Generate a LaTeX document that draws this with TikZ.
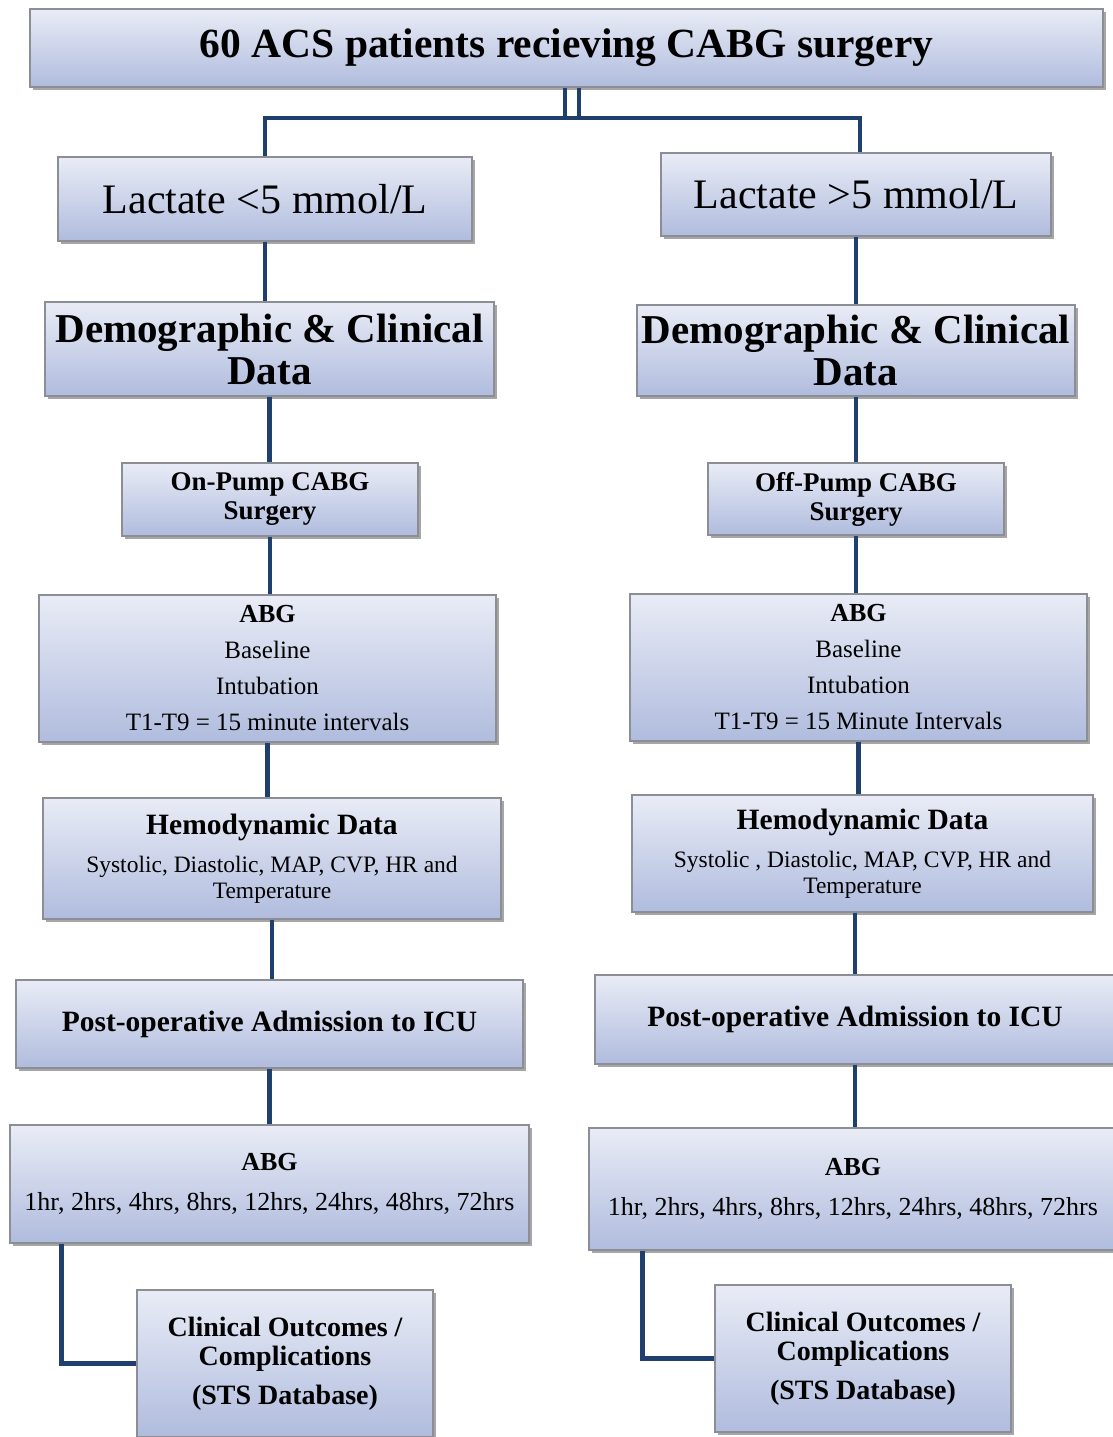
\documentclass[tikz,border=0pt]{standalone}
\usepackage{fontspec}
\setmainfont{Liberation Serif}
\usetikzlibrary{positioning, shadows, calc}
\definecolor{flowtop}{HTML}{E9ECF6}
\definecolor{flowbot}{HTML}{B0BCDE}
\definecolor{flowedge}{HTML}{8C8E96}
\definecolor{flowline}{HTML}{1F3F6E}
\tikzset{
  fbox/.style={draw=flowedge, line width=1.2pt, top color=flowtop, bottom color=flowbot,
               align=center, inner sep=0pt,
               drop shadow={shadow xshift=3pt, shadow yshift=-3pt, opacity=0.35, fill=black}},
  link/.style={draw=flowline, line width=4.5pt},
  big/.style={font=\fontsize{42}{46}\selectfont},
  bigb/.style={font=\fontsize{41}{42}\selectfont\bfseries},
  mid/.style={font=\fontsize{28}{29}\selectfont\bfseries},
  abgtext/.style={font=\fontsize{25}{36}\selectfont},
  hemotext/.style={font=\fontsize{23.5}{26}\selectfont},
  hrstext/.style={font=\fontsize{26}{39}\selectfont},
}

\begin{document}
\begin{tikzpicture}[x=1pt, y=-1pt]
  \useasboundingbox (0,0) rectangle (1113,1437);

  % top of the tree
  \node[fbox, bigb, font=\fontsize{41.5}{42}\selectfont\bfseries, minimum width=1073, minimum height=78] (top) at (566.5,48)
    {60 ACS patients recieving CABG surgery};
  \coordinate (split) at (572,118);

  % left column
  \node[fbox, big,  minimum width=414, minimum height=84]  (l1) at (265,199)    {Lactate <5 mmol/L};
  \node[fbox, bigb, minimum width=449, minimum height=94]  (l2) at (269.5,349)  {Demographic \& Clinical\\Data};
  \node[fbox, mid, font=\fontsize{27}{29}\selectfont\bfseries, minimum width=296, minimum height=73] (l3) at (270,499.5)
    {On-Pump CABG\\Surgery};
  \node[fbox, abgtext, minimum width=457, minimum height=147] (l4) at (267.5,668.5)
    {{\fontsize{26}{36}\selectfont\bfseries ABG}\\Baseline\\Intubation\\T1-T9 = 15 minute intervals};
  \node[fbox, hemotext, minimum width=458, minimum height=121] (l5) at (272,858.5)
    {{\fontsize{29.5}{26}\selectfont\bfseries Hemodynamic Data}\\[12pt]Systolic, Diastolic, MAP, CVP, HR and\\Temperature};
  \node[fbox, mid, font=\fontsize{29.5}{30}\selectfont\bfseries, minimum width=507, minimum height=88] (l6) at (269.5,1024)
    {Post-operative Admission to ICU};
  \node[fbox, hrstext, minimum width=519, minimum height=118] (l7) at (269.5,1184)
    {{\bfseries ABG}\\[1pt]1hr, 2hrs, 4hrs, 8hrs, 12hrs, 24hrs, 48hrs, 72hrs};
  \node[fbox, mid,  minimum width=296, minimum height=147] (l8) at (285,1363.5)
    {Clinical Outcomes /\\Complications\\[10pt](STS Database)};

  % right column
  \node[fbox, big,  minimum width=390, minimum height=83]  (r1) at (856,194.5)  {Lactate >5 mmol/L};
  \node[fbox, bigb, minimum width=438, minimum height=91]  (r2) at (856,350.5)  {Demographic \& Clinical\\Data};
  \node[fbox, mid, font=\fontsize{27}{29}\selectfont\bfseries, minimum width=296, minimum height=72] (r3) at (856,499)
    {Off-Pump CABG\\Surgery};
  \node[fbox, abgtext, minimum width=457, minimum height=147] (r4) at (858.5,667.5)
    {{\fontsize{26}{36}\selectfont\bfseries ABG}\\Baseline\\Intubation\\T1-T9 = 15 Minute Intervals};
  \node[fbox, hemotext, minimum width=461, minimum height=117] (r5) at (862.5,853.5)
    {{\fontsize{29.5}{26}\selectfont\bfseries Hemodynamic Data}\\[12pt]Systolic , Diastolic, MAP, CVP, HR and\\Temperature};
  \node[fbox, mid, font=\fontsize{29.5}{30}\selectfont\bfseries, minimum width=520, minimum height=89] (r6) at (855,1019.5)
    {Post-operative Admission to ICU};
  \node[fbox, hrstext, minimum width=528, minimum height=122] (r7) at (853,1189)
    {{\bfseries ABG}\\[1pt]1hr, 2hrs, 4hrs, 8hrs, 12hrs, 24hrs, 48hrs, 72hrs};
  \node[fbox, mid,  minimum width=296, minimum height=147] (r8) at (863,1358.5)
    {Clinical Outcomes /\\Complications\\[10pt](STS Database)};

  % split into the two groups
  \draw[link] ([xshift=-7pt]split |- top.south) -- ([xshift=-7pt]split);
  \draw[link] ([xshift=7pt]split |- top.south) -- ([xshift=7pt]split);
  \draw[link] (l1.north) -- (l1.north |- split) -- ([xshift=4pt]r1.north |- split) -- ([xshift=4pt]r1.north);

  % straight runs down each column
  \foreach \a/\b in {l1/l2, l2/l3, l3/l4, l4/l5, l5/l6, l6/l7, r1/r2, r2/r3, r3/r4, r4/r5, r6/r7}
    \draw[link] (\a.south) -- (\a.south |- \b.north);
  \draw[link] (r6.north |- r5.south) -- (r6.north);

  % elbows to the outcomes
  \draw[link] ([xshift=52pt]l7.south west) |- (l8.west);
  \draw[link] ([xshift=54pt]r7.south west) |- (r8.west);
\end{tikzpicture}
\end{document}
